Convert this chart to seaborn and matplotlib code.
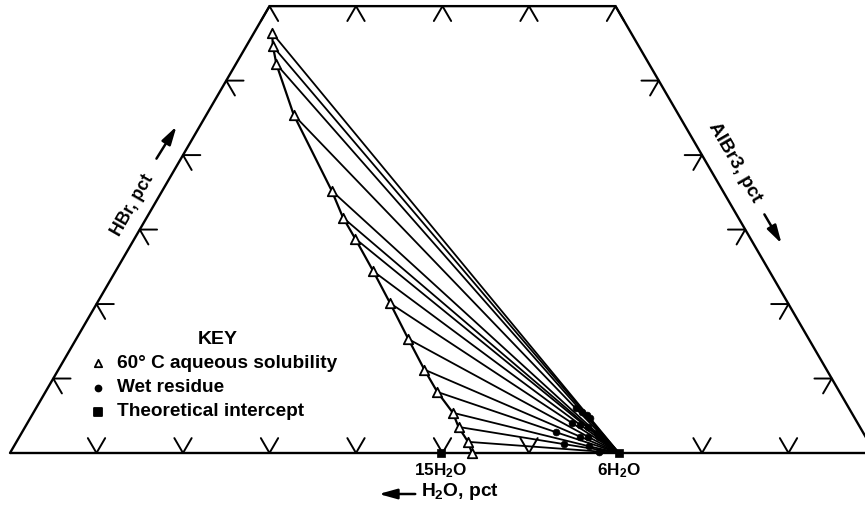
import numpy as np
import pandas as pd
import matplotlib
matplotlib.use("Agg")
import matplotlib.pyplot as plt
import seaborn as sns

# ---------------- data (weight percent) ----------------
# 60 C aqueous solubility curve
sol_hbr = [56.4, 54.6, 52.2, 45.4, 35.2, 31.6, 28.8, 24.4, 20.1, 15.3, 11.2, 8.2, 5.4, 3.5, 1.5, 0.0]
sol_albr3 = [2.1, 3.1, 4.7, 10.1, 19.6, 22.7, 25.5, 29.8, 33.9, 38.4, 42.3, 45.3, 48.5, 50.1, 52.2, 53.4]
# wet residues (one per tie line, same order as the first 15 solubility points)
wet_hbr = [4.7, 5.1, 5.5, 6.0, 2.7, 3.5, 2.1, 3.8, 4.0, 2.2, 2.2, 2.8, 0.9, 1.2, 0.2]
wet_albr3 = [64.7, 64.1, 63.4, 62.4, 66.5, 65.1, 67.1, 64.0, 63.0, 65.7, 64.8, 61.7, 66.5, 63.4, 68.0]
# theoretical intercepts on the H2O-AlBr3 side
hydrate_labels = ["15H$_2$O", "6H$_2$O"]
hydrate_albr3 = [49.8, 70.4]
hydrate_hbr = [0.0, 0.0]
# frame ticks
bottom_ticks = [10, 20, 30, 40, 50, 60, 80, 90]
side_ticks = [10, 20, 30, 40, 50]
top_hbr = 60
top_ticks = [30, 40, 50, 60, 70]

S3 = np.sqrt(3) / 2


def tern(albr3, hbr):
    albr3 = np.asarray(albr3, float)
    hbr = np.asarray(hbr, float)
    return albr3 + hbr / 2.0, hbr * S3


# pixel helpers (figure is 865 x 508 px)
X0, SX, Y0, SY = 10.0, 8.65, 453.0, 8.60


def px(x, y):
    return (x - X0) / SX, (Y0 - y) / SY


sns.set_theme(style="white")
plt.rcParams["font.family"] = ["Liberation Sans", "DejaVu Sans"]
plt.rcParams["font.weight"] = "bold"
plt.rcParams["text.color"] = "black"
plt.rcParams["mathtext.fontset"] = "custom"
plt.rcParams["mathtext.rm"] = "Liberation Sans:bold"
plt.rcParams["mathtext.it"] = "Liberation Sans:bold"
plt.rcParams["mathtext.bf"] = "Liberation Sans:bold"

fig = plt.figure(figsize=(8.65, 5.08), dpi=100)
ax = fig.add_axes([0, 0, 1, 1])
ax.set_xlim(px(0, 0)[0], px(865, 0)[0])
ax.set_ylim(px(0, 508)[1], px(0, 0)[1])
ax.axis("off")

# ---------------- frame ----------------
ytop = top_hbr * S3
ax.plot([0, 105], [0, 0], color="black", lw=1.7, solid_capstyle="butt")
ax.plot([0, top_hbr / 2, 100 - top_hbr / 2, 100], [0, ytop, ytop, 0],
        color="black", lw=1.7, solid_joinstyle="miter")

L = 2.0
tk = dict(color="black", lw=1.4)
for t in bottom_ticks:
    ax.plot([t - L / 2, t, t + L / 2], [L * S3, 0, L * S3], **tk)
for t in top_ticks:
    ax.plot([t - L / 2, t, t + L / 2], [ytop - L * S3, ytop, ytop - L * S3], **tk)
for h in side_ticks:
    x, y = h / 2, h * S3
    ax.plot([x + L, x, x + L / 2], [y, y, y - L * S3], **tk)
    x = 100 - h / 2
    ax.plot([x - L, x, x - L / 2], [y, y, y - L * S3], **tk)

# ---------------- tie lines ----------------
sx, sy = tern(sol_albr3, sol_hbr)
wx, wy = tern(wet_albr3, wet_hbr)
hx, hy = tern(hydrate_albr3, hydrate_hbr)
rows = []
for i in range(len(wet_hbr)):
    rows += [(i, sx[i], sy[i]), (i, wx[i], wy[i]), (i, hx[1], hy[1])]
ties = pd.DataFrame(rows, columns=["line", "x", "y"])
sns.lineplot(data=ties, x="x", y="y", units="line", estimator=None, sort=False,
             color="black", lw=1.3, ax=ax, legend=False)

# solubility curve
sol = pd.DataFrame({"x": sx, "y": sy})
sns.lineplot(data=sol, x="x", y="y", sort=False, estimator=None,
             color="black", lw=1.6, ax=ax, legend=False)

sns.scatterplot(x=wx, y=wy, marker="o", s=24, color="black", edgecolor="black",
                linewidth=0.5, ax=ax, zorder=5, legend=False)
sns.scatterplot(x=hx, y=hy, marker="s", s=40, color="black", edgecolor="black",
                linewidth=0.5, ax=ax, zorder=5, legend=False)
sns.scatterplot(x=sx, y=sy, marker="^", s=46, facecolor="white", edgecolor="black",
                linewidth=1.3, ax=ax, zorder=6, legend=False)

# hydrate labels
for lab, a in zip(hydrate_labels, hydrate_albr3):
    x, _ = tern(a, 0)
    ax.text(float(x), px(0, 471)[1], lab, ha="center", va="center", fontsize=12.3)

# ---------------- axis titles ----------------
ax.text(*px(133, 205), "HBr, pct", rotation=60, ha="center", va="center", fontsize=12.8,
        rotation_mode="anchor")
ax.annotate("", xy=px(178, 124), xytext=px(155, 161),
            arrowprops=dict(arrowstyle="-|>,head_length=0.9,head_width=0.25",
                            color="black", lw=1.8))
ax.text(*px(735, 162), "AlBr3, pct", rotation=-60, ha="center", va="center", fontsize=13.6,
        rotation_mode="anchor")
ax.annotate("", xy=px(783, 246), xytext=px(763, 212),
            arrowprops=dict(arrowstyle="-|>,head_length=0.9,head_width=0.25",
                            color="black", lw=1.8))
ax.text(*px(421, 491), "H$_2$O, pct", ha="left", va="center", fontsize=13.8)
ax.annotate("", xy=px(376, 494), xytext=px(418, 494),
            arrowprops=dict(arrowstyle="-|>,head_length=0.9,head_width=0.25",
                            color="black", lw=1.8))

# ---------------- key ----------------
ax.text(*px(218, 340), "KEY", ha="center", va="center", fontsize=14)
key_rows = [("60° C aqueous solubility", "^", 363, 28, "white"),
            ("Wet residue", "o", 388, 18, "black"),
            ("Theoretical intercept", "s", 412, 38, "black")]
for lab, m, y, s, fc in key_rows:
    kx, ky = px(98, y)
    ax.scatter([kx], [ky], marker=m, s=s, facecolor=fc, edgecolor="black", linewidth=1.3,
               zorder=6)
    ax.text(*px(117, y), lab, ha="left", va="center", fontsize=13.7)

fig.savefig("out.png", dpi=100)
